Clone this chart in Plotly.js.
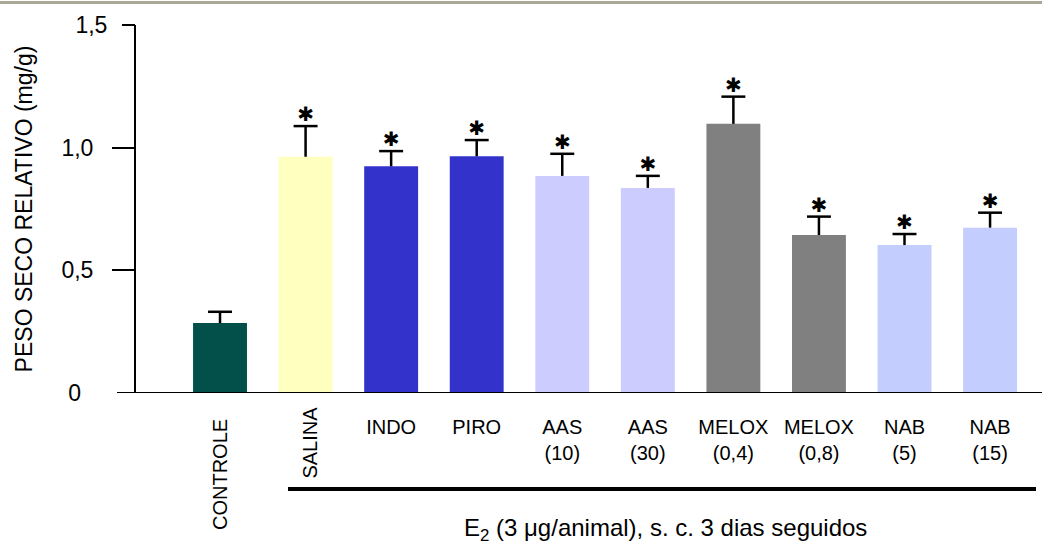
<!DOCTYPE html>
<html>
<head>
<meta charset="utf-8">
<script src="https://cdn.plot.ly/plotly-3.0.1.min.js"></script>
<style>html,body{margin:0;padding:0;background:#fff;}#chart{width:1042px;height:547px;}</style>
</head>
<body>
<div id="chart"></div>
<script>
// ---- data ----
var categories = ["CONTROLE", "SALINA", "INDO", "PIRO", "AAS<br>(10)", "AAS<br>(30)", "MELOX<br>(0,4)", "MELOX<br>(0,8)", "NAB<br>(5)", "NAB<br>(15)"];
var means = [0.285, 0.963, 0.924, 0.965, 0.885, 0.836, 1.097, 0.644, 0.603, 0.674];
var sem = [0.046, 0.125, 0.062, 0.066, 0.090, 0.049, 0.111, 0.075, 0.045, 0.061];
var significant = [false, true, true, true, true, true, true, true, true, true];
var yTickVals = [0.5, 1.0];
var yTickText = ["0,5", "1,0"];
var yTopTickVal = [1.5];
var yTopTickText = ["1,5"];
var yZeroTickVal = [0];
var yZeroTickText = ["0"];
var yTitle = "PESO SECO RELATIVO (mg/g)";
var xGroupTitle = "E<sub>2</sub> (3 μg/animal), s. c. 3 dias seguidos";

// ---- styles ----
var barColors = ["#03504A", "#FFFFC0", "#3333CC", "#3333CC", "#CCCCFF", "#CCCCFF", "#808080", "#808080", "#C3CDFE", "#C3CDFE"];
var FONT = "Liberation Sans, Arial, sans-serif";
var capHalf = 0.14;

var idx = categories.map(function (c, i) { return i; });

// error bars (upper only) built from the arrays
var ex = [], ey = [];
idx.forEach(function (i) {
  var top = means[i] + sem[i];
  ex.push(i, i, null, i - capHalf, i + capHalf, null);
  ey.push(means[i], top, null, top, top, null);
});

var starX = [], starY = [];
idx.forEach(function (i) {
  if (significant[i]) { starX.push(i); starY.push(means[i] + sem[i]); }
});

var traces = [
  {
    type: "bar",
    x: idx,
    y: means,
    width: 0.63,
    marker: { color: barColors, line: { width: 0 } },
    hoverinfo: "skip",
    yaxis: "y"
  },
  {
    type: "scatter",
    mode: "lines",
    x: ex,
    y: ey,
    line: { color: "#000", width: 2.5 },
    hoverinfo: "skip",
    showlegend: false
  },
  {
    type: "scatter",
    mode: "text",
    x: starX,
    y: starY,
    text: starX.map(function () { return "✱"; }),
    textposition: "top center",
    textfont: { family: "DejaVu Sans", size: 20, color: "#000" },
    hoverinfo: "skip",
    showlegend: false
  },
  { type: "scatter", x: [0], y: [0], yaxis: "y2", mode: "markers", marker: { opacity: 0 }, hoverinfo: "skip", showlegend: false },
  { type: "scatter", x: [0], y: [0], yaxis: "y3", mode: "markers", marker: { opacity: 0 }, hoverinfo: "skip", showlegend: false }
];

var plotH = 368; // px between y=0 and y=1.5
function py(p) { return (393 - p) / plotH; }   // pixel row -> paper y
function px(p) { return (p - 136) / 906; }     // pixel column -> paper x

var layout = {
  width: 1042,
  height: 547,
  margin: { l: 136, r: 0, t: 25, b: 154, pad: 0 },
  paper_bgcolor: "#fff",
  plot_bgcolor: "#fff",
  showlegend: false,
  font: { family: FONT, size: 20, color: "#000" },
  xaxis: {
    range: [-0.982, 9.607],
    tickmode: "array",
    tickvals: idx.slice(2),
    ticktext: categories.slice(2),
    ticks: "",
    showline: false,
    showgrid: false,
    zeroline: false,
    ticklabelstandoff: 20,
    tickfont: { family: FONT, size: 20, color: "#000" },
    fixedrange: true
  },
  yaxis: {
    range: [0, 1.5],
    tickmode: "array",
    tickvals: yTickVals,
    ticktext: yTickText,
    ticks: "outside",
    ticklen: 22,
    tickwidth: 2,
    tickcolor: "#000",
    showline: true,
    linewidth: 2,
    linecolor: "#000",
    showgrid: false,
    zeroline: false,
    ticklabelstandoff: 14,
    tickfont: { family: FONT, size: 23, color: "#000" },
    title: { text: yTitle, font: { family: FONT, size: 23, color: "#000" }, standoff: 22 },
    fixedrange: true
  },
  yaxis2: {
    overlaying: "y",
    side: "left",
    range: [0, 1.5],
    tickmode: "array",
    tickvals: yTopTickVal,
    ticktext: yTopTickText,
    ticks: "outside",
    ticklen: 13,
    tickwidth: 2,
    tickcolor: "#000",
    showline: false,
    showgrid: false,
    zeroline: false,
    ticklabelstandoff: 10,
    tickfont: { family: FONT, size: 23, color: "#000" },
    fixedrange: true
  },
  yaxis3: {
    overlaying: "y",
    side: "left",
    range: [0, 1.5],
    tickmode: "array",
    tickvals: yZeroTickVal,
    ticktext: yZeroTickText,
    ticks: "",
    showline: false,
    showgrid: false,
    zeroline: false,
    ticklabelstandoff: 54,
    tickfont: { family: FONT, size: 23, color: "#000" },
    fixedrange: true
  },
  shapes: [
    { type: "line", xref: "paper", yref: "paper", x0: px(0), x1: 1, y0: py(2.5), y1: py(2.5), line: { color: "#AAA796", width: 3 } },
    { type: "line", xref: "paper", yref: "y", x0: px(117), x1: 1, y0: 0, y1: 0, line: { color: "#000", width: 2 } },
    { type: "line", xref: "paper", yref: "paper", x0: px(288), x1: px(1036), y0: py(489), y1: py(489), line: { color: "#000", width: 4 } }
  ],
  annotations: [
    { xref: "x", yref: "paper", x: 0, y: py(475), text: categories[0], textangle: -90, showarrow: false, xanchor: "center", yanchor: "middle", font: { family: FONT, size: 20, color: "#000" } },
    { xref: "x", yref: "paper", x: 1, y: py(443), xshift: 4, text: categories[1], textangle: -90, showarrow: false, xanchor: "center", yanchor: "middle", font: { family: FONT, size: 20, color: "#000" } },
    { xref: "paper", yref: "paper", x: px(665), y: py(529), text: xGroupTitle, showarrow: false, xanchor: "center", yanchor: "middle", font: { family: FONT, size: 24, color: "#000" } }
  ]
};

Plotly.newPlot("chart", traces, layout, { displayModeBar: false, staticPlot: true });
</script>
</body>
</html>
